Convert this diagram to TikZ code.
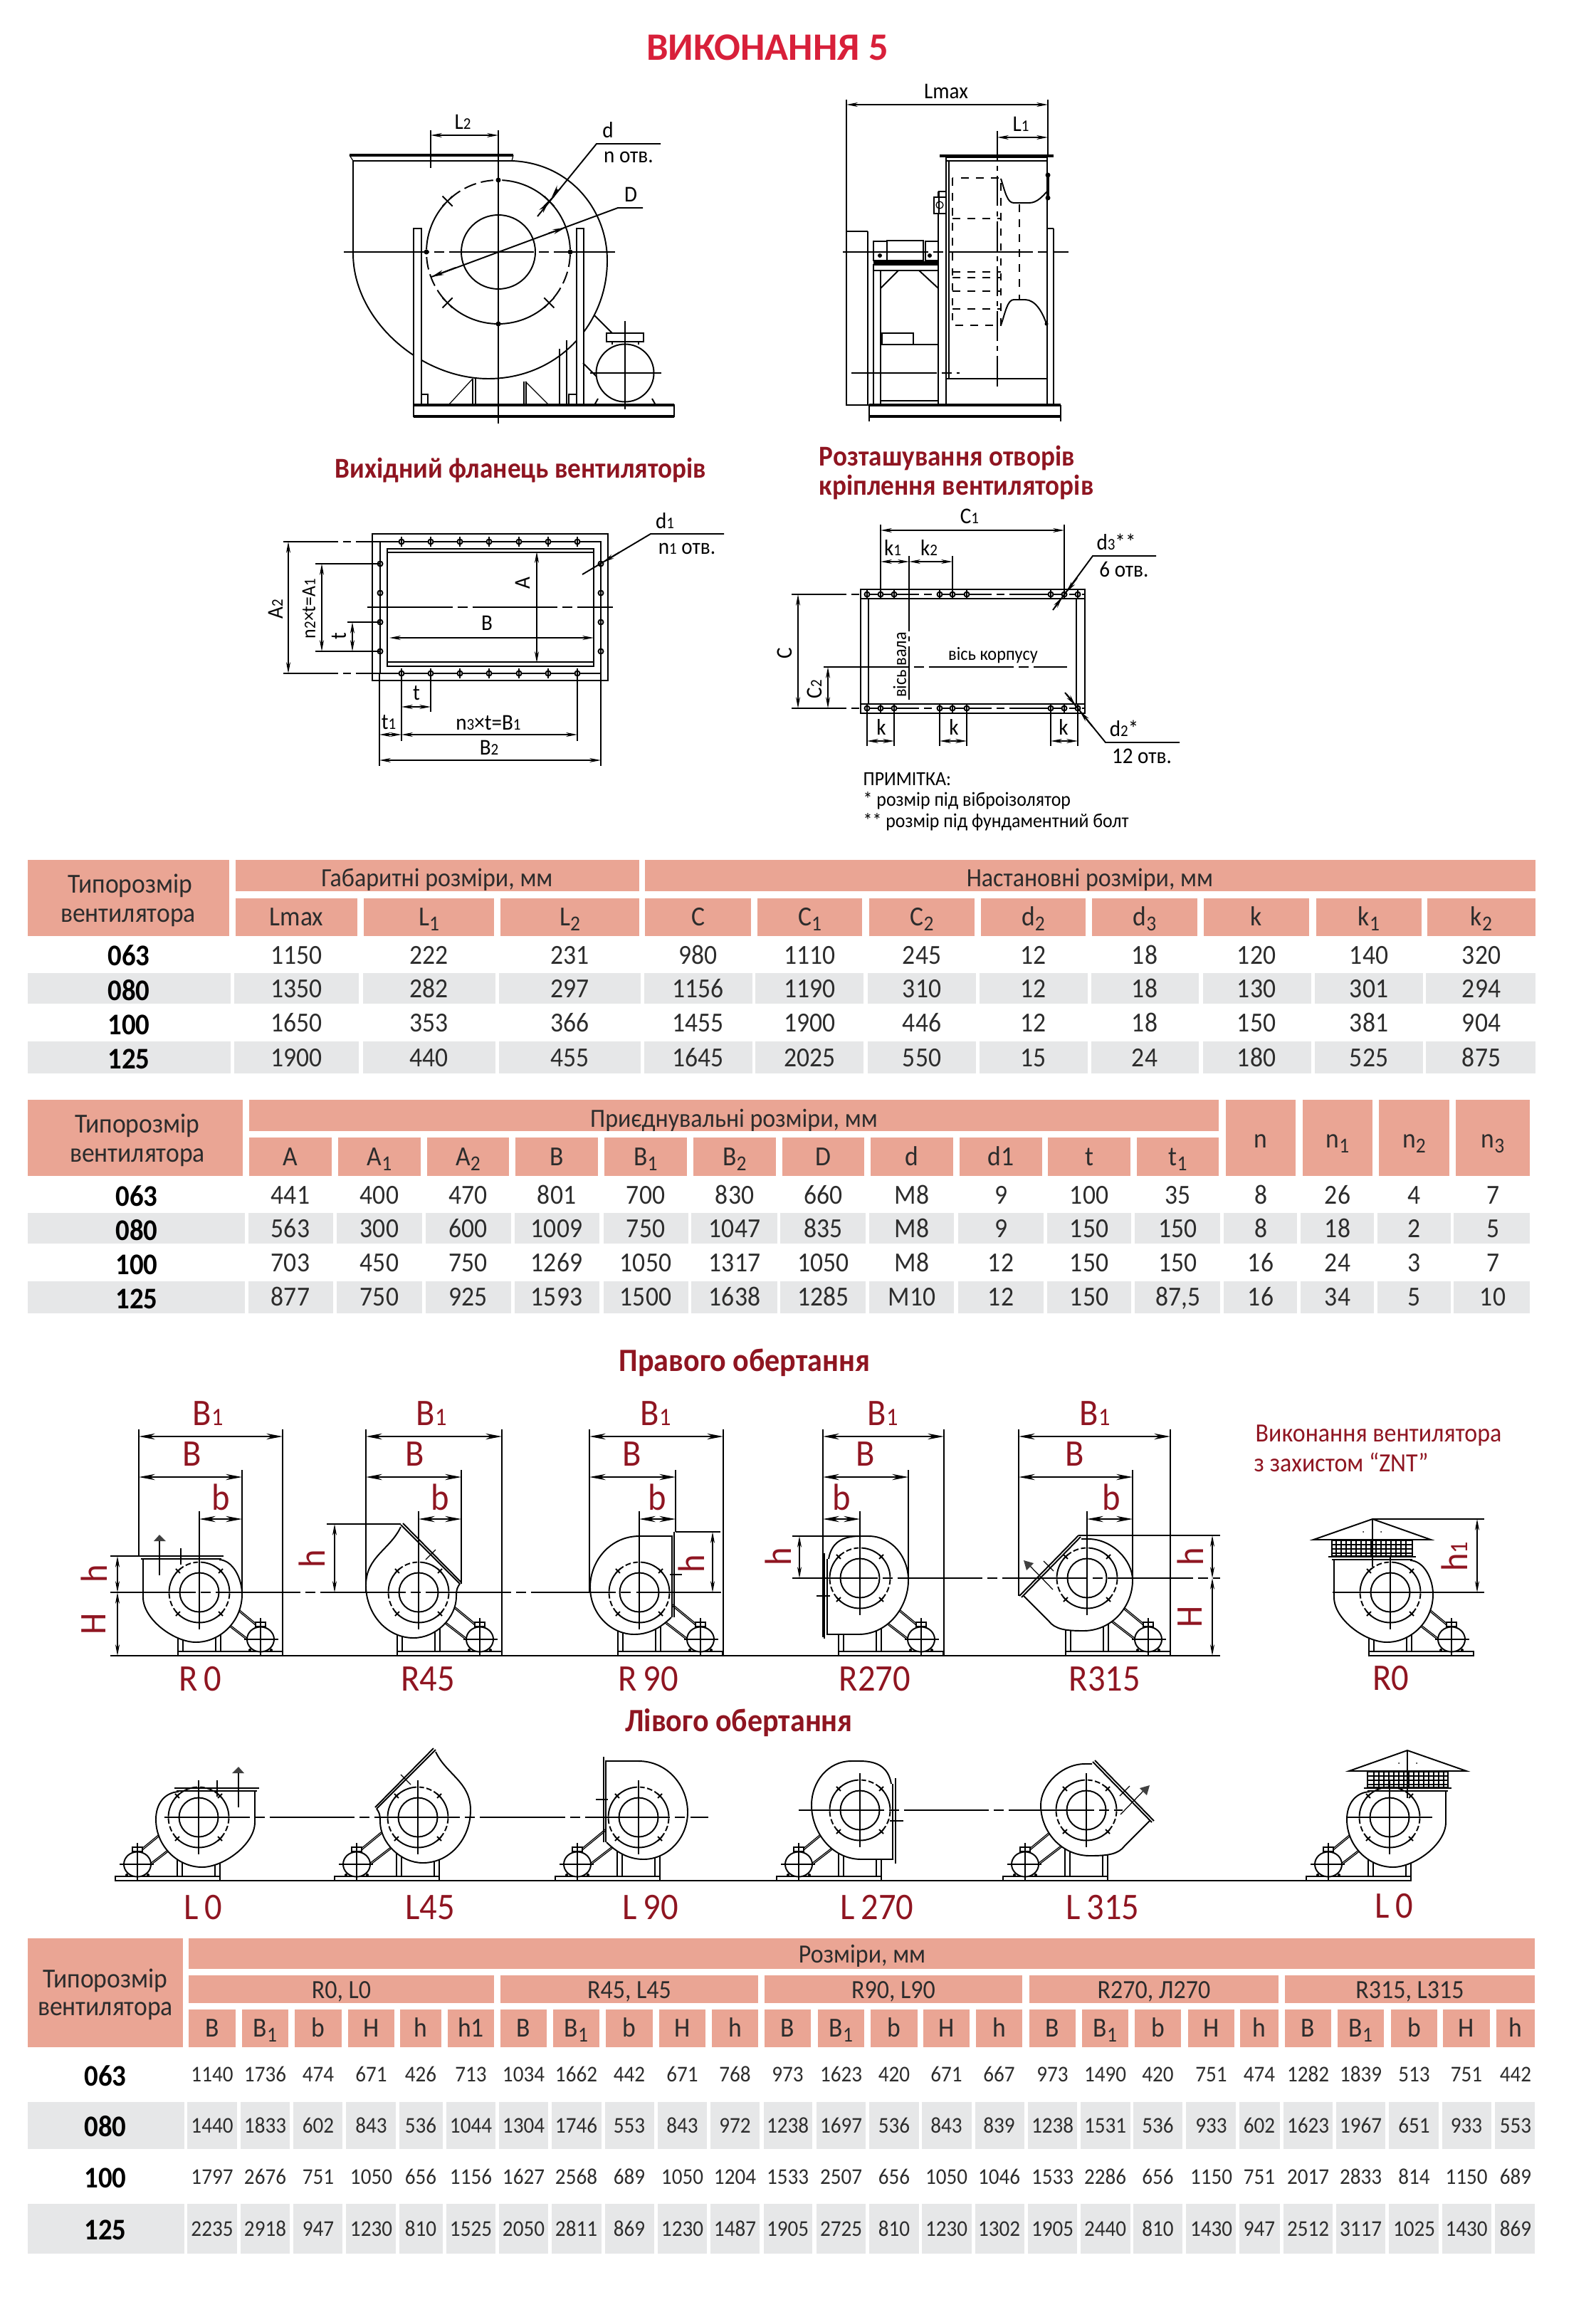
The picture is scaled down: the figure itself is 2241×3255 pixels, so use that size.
\documentclass[tikz,border=0pt]{standalone}
\usepackage{fontspec}
\setmainfont[FakeStretch=0.92]{Carlito}
\newfontfamily\plainfont{Carlito}
\usetikzlibrary{arrows.meta}
\definecolor{headfill}{HTML}{EAA594}
\definecolor{rowfill}{HTML}{E6E7E8}
\definecolor{crimson}{HTML}{D8203A}
\definecolor{maroon}{HTML}{8F1521}
\definecolor{softblack}{HTML}{2C2C2C}
\newcommand{\lowd}[1]{\raisebox{-2.2pt}{\fontsize{8.5}{9}\selectfont #1}}
\newcommand{\smd}[1]{{\fontsize{6.5}{7}\selectfont #1}}
\newcommand{\bigd}[1]{{\fontsize{10}{11}\selectfont #1}}
\tikzset{
  partline/.style={line width=0.35pt, black},
  fanline/.style={line width=0.55pt, black},
  thickline/.style={line width=1.1pt, black},
  flangeline/.style={line width=0.8pt, black},
  axisline/.style={line width=0.7pt, black, dash pattern=on 34pt off 2pt on 4pt off 2pt},
  dimline/.style={line width=0.55pt, {Stealth[length=6.5pt,width=2.4pt]}-{Stealth[length=6.5pt,width=2.4pt]}},
  dimsmall/.style={line width=0.55pt, {Stealth[length=4.5pt,width=1.7pt]}-{Stealth[length=4.5pt,width=1.7pt]}},
  leader/.style={line width=0.55pt, black},
  headtext/.style={anchor=base, inner sep=0pt, text=softblack, font=\fontsize{11}{12}\selectfont},
  grouptext/.style={anchor=base, inner sep=0pt, text=softblack, font=\fontsize{10.5}{12}\selectfont},
  valtext/.style={anchor=base, inner sep=0pt, text=softblack, font=\fontsize{11}{12}\selectfont},
  sizetext/.style={anchor=base, inner sep=0pt, black, font=\fontsize{12}{13}\bfseries\selectfont},
  smallval/.style={valtext, font=\fontsize{9}{10}\selectfont},
  draftlabel/.style={inner sep=0pt, black, font=\fontsize{9}{10}\selectfont},
  fanlabel/.style={inner sep=0pt, maroon, font=\fontsize{15}{16}\selectfont},
  sectitle/.style={anchor=west, inner sep=0pt, maroon, font=\fontsize{11.5}{13}\bfseries\selectfont},
  rottitle/.style={inner sep=0pt, maroon, font=\fontsize{13}{15}\bfseries\selectfont},
  notetext/.style={anchor=west, inner sep=0pt, font=\fontsize{8}{9}\selectfont}
}
% one column of a table: head cell, two grey cells, four values
\newcommand{\sizecolumns}[2]{%
  \foreach \hA/\hB/\gA/\gB/\lab/\vA/\vB/\vC/\vD in {#2} {
    \fill[headfill] (\hA,\headT) rectangle (\hB,\headB);
    \node[headtext] (#1h\hA) at ({(\hA+\hB)/2},\headY) {\lab};
    \fill[rowfill] (\gA,\rowbT) rectangle (\gB,\rowbB);
    \fill[rowfill] (\gA,\rowdT) rectangle (\gB,\rowdB);
    \node[\valstyle] (#1a\hA) at ({(\hA+\hB)/2},\rowaY) {\vA};
    \node[\valstyle] (#1b\hA) at ({(\hA+\hB)/2},\rowbY) {\vB};
    \node[\valstyle] (#1c\hA) at ({(\hA+\hB)/2},\rowcY) {\vC};
    \node[\valstyle] (#1d\hA) at ({(\hA+\hB)/2},\rowdY) {\vD};
  }}
\newcommand{\bolt}[2]{%
  \draw[fanline, fill=white] (#1,#2) circle (3.5);
  \draw[fanline] (#1,{#2-7}) -- (#1,{#2+7});}
% bolt ring of a fan: radius, dash on, dash off
\newcommand{\fanring}[3]{%
  \pgfmathsetmacro{\crossa}{#1*0.07}
  \draw[fanline] (273:#1) arc (273:358:#1);
  \draw[fanline] (48:#1) arc (48:132:#1);
  \draw[fanline] (182:#1) arc (182:222:#1);
  \draw[fanline, dash pattern=on #2pt off #3pt] (2:#1) arc (2:42:#1);
  \draw[fanline, dash pattern=on #2pt off #3pt] (138:#1) arc (138:178:#1);
  \draw[fanline, dash pattern=on #2pt off #3pt] (228:#1) arc (228:267:#1);
  \foreach \ang in {0,90,180,270}
    \fill (\ang:#1) circle ({#1*0.035});
  \foreach \ang in {45,135,225,315} {
    \draw[fanline] ([shift={(\ang:#1)}]-\crossa,-\crossa) -- ([shift={(\ang:#1)}]\crossa,\crossa);
    \draw[fanline] ([shift={(\ang:#1)}]-\crossa,\crossa) -- ([shift={(\ang:#1)}]\crossa,-\crossa);
  }}
% pedestal and motor, origin under the shaft at the top of the base
\newcommand{\fanbase}{%
  \draw[partline] (-30,0) rectangle (117,6);
  \draw[fanline] (-30,0) -- (117,0);
  \foreach \px in {-30,-23,23,30}
    \draw[partline] (\px,-55) -- (\px,0);
  \draw[partline] (45,-65) -- (79,-37);
  \draw[partline] (47,-66) -- (81,-38);
  \draw[partline] (31,-44) -- (66,-17);
  \draw[partline] (33,-45) -- (68,-18);
  \draw[fanline, fill=white] (86,-17) ellipse (19 and 17.5);
  \draw[partline, fill=white] (79,-41) rectangle (93,-35);
  \draw[partline] (63,-17) -- (111,-17);
  \draw[partline] (86,-47) -- (86,6);
  \fill (71,-2) circle (2);
  \fill (101,-2) circle (2);}
\newcommand{\fanunit}[5]{%
  \begin{scope}[shift={(#1,#2)}, xscale=#3]
    \fanbase
    \begin{scope}[shift={(0,-#4)}]
      #5
      \fanring{42.5}{2.2}{1}
      \draw[fanline] (0,0) circle (27.5);
      \draw[partline] (0,-52) -- (0,52);
    \end{scope}
  \end{scope}}
\newcommand{\voluteZero}[1]{%
  \draw[fanline, fill=white] (-79,{#1+3}) -- (-79,7) .. controls (-79,38) and (-35,70) .. (-5,70)
    .. controls (30,70) and (60,40) .. (60,3) .. controls (60,-20) and (47,{#1+6}) .. (28,{#1+5});
  \draw[flangeline] (-85,#1) -- (34,#1);
  \draw[partline] (-82,{#1+4}) -- (31,{#1+4});}
\newcommand{\voluteArrow}[1]{%
  \draw[partline] (-56,{#1+27}) -- (-56,{#1-21});
  \fill[black!75] (-64,{#1-21}) -- (-47,{#1-21}) -- (-56,{#1-30}) -- cycle;
  \draw[partline] (-26,{#1-11}) -- (-26,{#1+12});}
\newcommand{\voluteFortyFive}{%
  \draw[fanline, fill=white] (-25,-92) .. controls (-40,-60) and (-74,-50) .. (-74,-10)
    .. controls (-74,30) and (-45,64) .. (-7,64) .. controls (25,64) and (53,35) .. (53,6)
    .. controls (53,-5) and (55,-8) .. (58,-12);
  \draw[fanline] (-25,-95) -- (58,-12);
  \draw[fanline] (-22,-97) -- (60,-14);
  \draw[partline] (24,-60) -- (10,-46);}
\newcommand{\voluteNinety}{%
  \draw[fanline, fill=white] (47,-79) -- (0,-79) .. controls (-40,-79) and (-69,-45) .. (-69,-7)
    .. controls (-69,30) and (-40,59) .. (-7,59) .. controls (15,59) and (32,48) .. (45,35);
  \draw[flangeline] (49,-85) -- (49,35);
  \draw[partline] (46,-79) -- (46,35);
  \draw[fanline] (43,-25) -- (60,-25);}
\newcommand{\voluteTwoSeventy}{%
  \draw[fanline, fill=white] (-47,79) -- (-2,79) .. controls (40,79) and (68,40) .. (68,3)
    .. controls (68,-30) and (45,-59) .. (12,-59) -- (0,-59) .. controls (-25,-59) and (-40,-50) .. (-44,-27);
  \draw[flangeline] (-50,-35) -- (-50,85);
  \draw[partline] (-46,-27) -- (-46,79);
  \draw[fanline] (-61,25) -- (-42,25);}
\newcommand{\voluteThreeFifteen}{%
  \draw[fanline, fill=white] (-8,-55) -- (2,-55) .. controls (35,-55) and (64,-25) .. (64,3)
    .. controls (64,40) and (35,74) .. (-5,74) .. controls (-30,74) and (-45,72) .. (-54,60) -- (-89,25);
  \draw[fanline] (-12,-60) -- (-95,25);
  \draw[fanline] (-9,-58) -- (-92,27);
  \draw[partline] (-48,16) -- (-80,-17);
  \fill[black!75] (-89,-25) -- (-75,-21) -- (-85,-11) -- cycle;
  \draw[partline] (-47,-10) -- (-61,-24);}
\newcommand{\fanroof}[1]{%
  \draw[partline, fill=white] (-82,{#1-23}) rectangle (31,{#1-1});
  \foreach \gx in {-76,-69,...,26}
    \draw[partline] (\gx,{#1-23}) -- (\gx,{#1-1});
  \foreach \gy in {-17,-11,-5}
    \draw[partline] (-82,{#1+\gy}) -- (31,{#1+\gy});
  \draw[fanline, fill=white] (-108,{#1-24}) -- (-25,{#1-53}) -- (57,{#1-24}) -- cycle;
  \draw[flangeline] (-108,{#1-24}) -- (57,{#1-24});
  \draw[flangeline] (-87,#1) -- (36,#1);
  \draw[partline] (-25,{#1-53}) -- (-25,{#1+14});
  \foreach \rx in {-38,-13}
    \fill (\rx,{#1-35}) circle (1);}
\begin{document}
\begin{tikzpicture}[x=0.01cm, y=-0.01cm]
  \useasboundingbox (0,0) rectangle (2241,3255);
  \node[inner sep=0pt, crimson, font=\fontsize{15.5}{18}\plainfont\bfseries\selectfont] (maintitle) at (1078,67) {ВИКОНАННЯ 5};

  % front view
  \begin{scope}[shift={(700,354)}]
    \draw[fanline, fill=white] (-204,-128) -- (-204,2) .. controls (-204,95) and (-110,178) .. (-14,178)
      .. controls (80,178) and (153,105) .. (153,12) .. controls (153,-60) and (100,-125) .. (19,-128);
    \draw[thickline] (-209,-136) -- (21,-136);
    \draw[fanline] (-204,-128) -- (19,-128);
    \draw[partline] (-209,-136) -- (-204,-128);
    \draw[partline] (21,-136) -- (19,-128);
    \fanring{101}{5}{2}
    \draw[fanline] (0,0) circle (52);
    \draw[fanline, fill=white] (-119,-33) rectangle (-108,215);
    \draw[fanline, fill=white] (110,-33) rectangle (120,215);
    \draw[partline] (-108,200) rectangle (-99,215);
    \draw[partline] (99,200) rectangle (110,215);
    \draw[partline] (-36,178) -- (-36,215);
    \draw[partline] (-32,178) -- (-32,215);
    \draw[partline] (36,182) -- (36,215);
    \draw[partline] (39,182) -- (39,215);
    \draw[partline] (-36,178) -- (-70,215);
    \draw[partline] (38,182) -- (71,215);
    \draw[partline] (86,136) -- (86,215);
    \draw[partline] (96,124) -- (96,215);
  \end{scope}
  \draw[fanline] (581,569) rectangle (947,585);
  \draw[thickline] (581,569) -- (947,569);
  \draw[thickline] (581,585) -- (947,585);
  \draw[fanline] (835,443) -- (860,468);
  \draw[fanline] (819,510) -- (839,530);
  \draw[fanline, fill=white] (878,524) circle (40.5);
  \draw[fanline, fill=white] (852,468) rectangle (904,480);
  \draw[fanline] (860,480) -- (860,484);
  \draw[fanline] (897,480) -- (897,484);
  \draw[fanline] (829,524) -- (929,524);
  \draw[partline] (878,451) -- (878,575);
  \draw[fanline] (840,560) -- (835,569);
  \draw[fanline] (916,560) -- (921,569);
  \draw[partline] (700,183) -- (700,595);
  \draw[axisline] (483,354) -- (864,354);
  \coordinate (ltwoa) at (605,190);
  \coordinate (ltwob) at (700,190);
  \draw[partline] (605,183) -- (605,236);
  \draw[dimsmall] (ltwoa) -- (ltwob);
  \node[draftlabel] (ltwo) at (650,171) {L\smd{2}};
  \coordinate (da) at (755,304);
  \coordinate (db) at (838,202);
  \coordinate (dc) at (928,202);
  \draw[leader] (da) -- (db) -- (dc);
  \draw[leader, -{Stealth[length=5pt,width=2pt]}] (764,292) -- (771,283);
  \draw[leader, -{Stealth[length=5pt,width=2pt]}] (783,266) -- (775,277);
  \node[draftlabel] (dname) at (854,183) {d};
  \node[draftlabel] (nholes) at (883,221) {n отв.};
  \coordinate (bda) at (606,389);
  \coordinate (bdb) at (868,292);
  \coordinate (bdc) at (903,292);
  \draw[leader] (bda) -- (bdb) -- (bdc);
  \draw[leader, -{Stealth[length=5pt,width=2pt]}] (640,376) -- (bda);
  \draw[leader, -{Stealth[length=5pt,width=2pt]}] (770,328) -- (794,320);
  \node[draftlabel] (dbig) at (886,273) {D};

  % side view
  \draw[partline] (1189,140) -- (1189,569) -- (1230,569);
  \draw[partline] (1472,140) -- (1472,219);
  \draw[dimsmall] (1189,147) -- (1472,147);
  \node[draftlabel] (lmax) at (1329,128) {Lmax};
  \draw[dimsmall] (1401,193) -- (1472,193);
  \draw[partline, dash pattern=on 12pt off 2pt on 2pt off 2pt] (1401,184) -- (1401,544);
  \node[draftlabel] (lone) at (1434,174) {L\smd{1}};
  \draw[thickline] (1320,219) -- (1480,219);
  \draw[fanline] (1329,221) rectangle (1471,532);
  \draw[fanline] (1333,226) -- (1333,532);
  \draw[fanline] (1329,226) -- (1471,226);
  \draw[fanline] (1318,269) -- (1318,569);
  \draw[fanline] (1329,532) -- (1329,569);
  \draw[fanline] (1471,532) -- (1471,569);
  \draw[partline] (1480,321) -- (1480,569);
  \draw[partline] (1471,321) -- (1480,321);
  \draw[fanline, dashed] (1338,250) rectangle (1406,457);
  \foreach \dy in {307,382,390,409,434}
    \draw[fanline, dashed] (1338,\dy) -- (1406,\dy);
  \draw[fanline] (1406,251) .. controls (1412,270) and (1415,285) .. (1424,285) -- (1446,285) .. controls (1457,285) and (1465,275) .. (1471,269);
  \draw[fanline] (1406,457) .. controls (1412,440) and (1415,421) .. (1424,421) -- (1440,421) .. controls (1455,421) and (1465,440) .. (1470,455);
  \draw[partline, dashed] (1432,287) -- (1432,421);
  \draw[thickline] (1472,246) -- (1472,278);
  \fill (1472,246) circle (3.5);
  \fill (1472,278) circle (3.5);
  \fill (1470,455) circle (2.5);
  \draw[partline, fill=white] (1312,277) rectangle (1329,300);
  \draw[partline] (1319,269) rectangle (1329,300);
  \draw[partline] (1320,288) circle (5);
  \draw[partline] (1219,325) -- (1219,569);
  \draw[partline] (1189,325) -- (1219,325);
  \draw[fanline] (1227,368) -- (1318,368);
  \draw[thickline] (1227,371) -- (1318,371);
  \draw[partline] (1227,380) -- (1318,380);
  \draw[fanline] (1227,371) -- (1227,569);
  \draw[fanline] (1237,380) -- (1237,569);
  \draw[fanline] (1237,405) -- (1262,380);
  \draw[fanline] (1291,380) -- (1318,405);
  \draw[fanline] (1246,338) rectangle (1297,366);
  \draw[partline] (1227,339) rectangle (1246,366);
  \draw[partline] (1300,339) rectangle (1318,366);
  \fill (1236,359) circle (3);
  \fill (1306,359) circle (3);
  \draw[fanline] (1239,468) rectangle (1283,484);
  \draw[fanline] (1237,484) -- (1318,484);
  \draw[axisline] (1196,524) -- (1348,524);
  \draw[axisline] (1184,354) -- (1501,354);
  \draw[fanline] (1237,563) -- (1318,563);
  \draw[thickline] (1221,569) -- (1490,569);
  \draw[thickline] (1221,585) -- (1490,585);
  \draw[fanline] (1221,569) -- (1221,592);
  \draw[fanline] (1490,569) -- (1490,592);

  % outlet flange
  \node[sectitle] (flangetitle) at (470,661) {Вихідний фланець вентиляторів};
  \node[sectitle] (mounttitlea) at (1150,643) {Розташування отворів};
  \node[sectitle] (mounttitleb) at (1150,684) {кріплення вентиляторів};
  \draw[fanline] (523,750) rectangle (854,956);
  \draw[fanline] (544,771) rectangle (834,936);
  \draw[fanline] (544,776) -- (834,776);
  \draw[fanline] (544,930) -- (834,930);
  \draw[partline] (534,761) rectangle (844,946);
  \draw[fanline, dash pattern=on 22pt off 2pt on 3pt off 2pt] (398,761) -- (844,761);
  \draw[fanline, dash pattern=on 22pt off 2pt on 3pt off 2pt] (398,946) -- (844,946);
  \draw[axisline] (516,853) -- (861,853);
  \foreach \bx in {564,605,646,687,729,770,811} {
    \bolt{\bx}{761}
    \bolt{\bx}{946}
  }
  \foreach \by in {792,833,874,915} {
    \bolt{534}{\by}
    \bolt{844}{\by}
  }
  \draw[partline] (443,792) -- (534,792);
  \draw[partline] (443,915) -- (534,915);
  \draw[partline] (488,874) -- (534,874);
  \draw[dimsmall] (405,761) -- (405,946);
  \draw[dimsmall] (452,792) -- (452,915);
  \draw[dimsmall] (495,874) -- (495,915);
  \draw[dimsmall] (754,775) -- (754,931);
  \draw[dimsmall] (547,896) -- (834,896);
  \node[draftlabel, rotate=90] (atwo) at (387,856) {A\smd{2}};
  \node[draftlabel, rotate=90, font=\fontsize{8}{9}\selectfont] (aone) at (434,855) {n\smd{2}×t=A\smd{1}};
  \node[draftlabel, rotate=90] (tside) at (476,894) {t};
  \node[draftlabel, rotate=90] (aname) at (734,819) {A};
  \node[draftlabel] (bname) at (684,875) {B};
  \coordinate (dona) at (818,807);
  \coordinate (donb) at (914,750);
  \coordinate (donc) at (1017,750);
  \draw[leader] (dona) -- (donb) -- (donc);
  \draw[leader, -{Stealth[length=4.5pt,width=1.8pt]}] (870,776) -- (847,790);
  \node[draftlabel] (donename) at (934,732) {d\smd{1}};
  \node[draftlabel] (nonename) at (965,771) {n\smd{1} отв.};
  \draw[partline] (533,946) -- (533,1076);
  \draw[partline] (844,946) -- (844,1076);
  \draw[partline] (564,946) -- (564,1041);
  \draw[partline] (605,946) -- (605,1000);
  \draw[partline] (811,946) -- (811,1041);
  \draw[dimsmall] (564,993) -- (605,993);
  \draw[dimsmall] (533,1032) -- (564,1032);
  \draw[dimsmall] (564,1032) -- (811,1032);
  \draw[dimsmall] (533,1068) -- (844,1068);
  \node[draftlabel] (tbelow) at (585,974) {t};
  \node[draftlabel] (tone) at (546,1015) {t\smd{1}};
  \node[draftlabel] (bone) at (686,1015) {n\smd{3}×t=B\smd{1}};
  \node[draftlabel] (btwo) at (687,1050) {B\smd{2}};

  % fixing holes
  \draw[fanline] (1209,828) rectangle (1524,1002);
  \draw[fanline] (1209,841) -- (1524,841);
  \draw[flangeline] (1209,989) -- (1524,989);
  \draw[partline] (1220,841) -- (1220,989);
  \draw[partline] (1512,841) -- (1512,989);
  \draw[fanline, dash pattern=on 22pt off 2pt on 3pt off 2pt] (1112,835) -- (1524,835);
  \draw[fanline, dash pattern=on 22pt off 2pt on 3pt off 2pt] (1112,995) -- (1524,995);
  \draw[axisline] (1157,937) -- (1499,937);
  \foreach \bx in {1218,1237,1256,1320,1338,1358,1476,1495,1514} {
    \bolt{\bx}{835}
    \bolt{\bx}{995}
  }
  \draw[fanline] (1237,737) -- (1237,835);
  \draw[fanline] (1495,737) -- (1495,835);
  \draw[partline] (1338,781) -- (1338,835);
  \draw[partline, dash pattern=on 30pt off 2pt on 2pt off 2pt] (1277,781) -- (1277,983);
  \draw[dimsmall] (1237,745) -- (1495,745);
  \draw[dimsmall] (1237,789) -- (1277,789);
  \draw[dimsmall] (1277,789) -- (1338,789);
  \draw[dimsmall] (1121,835) -- (1121,995);
  \draw[dimsmall] (1163,937) -- (1163,995);
  \node[draftlabel] (cone) at (1362,725) {C\smd{1}};
  \node[draftlabel] (kone) at (1254,770) {k\smd{1}};
  \node[draftlabel] (ktwo) at (1305,770) {k\smd{2}};
  \node[draftlabel, rotate=90] (cname) at (1102,918) {C};
  \node[draftlabel, rotate=90] (ctwo) at (1144,968) {C\smd{2}};
  \node[inner sep=0pt, rotate=90, font=\fontsize{7.5}{8}\selectfont] (shaftaxis) at (1264,934) {вісь вала};
  \node[inner sep=0pt, font=\fontsize{7.5}{8}\selectfont] (caseaxis) at (1395,921) {вісь корпусу};
  \foreach \kl/\kr/\kn in {1218/1256/1238,1320/1358/1340,1476/1514/1494} {
    \draw[partline] (\kl,995) -- (\kl,1048);
    \draw[partline] (\kr,995) -- (\kr,1048);
    \draw[dimsmall] (\kl,1041) -- (\kr,1041);
    \node[draftlabel] (k\kl) at (\kn,1022) {k};
  }
  \coordinate (dtha) at (1479,857);
  \coordinate (dthb) at (1535,781);
  \coordinate (dthc) at (1624,781);
  \draw[leader] (dtha) -- (dthb) -- (dthc);
  \draw[leader, -{Stealth[length=4.5pt,width=1.8pt]}] (1513,812) -- (1498,832);
  \draw[leader, -{Stealth[length=4.5pt,width=1.8pt]}] (1482,853) -- (1492,839);
  \node[draftlabel] (dthree) at (1568,761) {d\smd{3}**};
  \node[draftlabel] (sixholes) at (1579,800) {6 отв.};
  \coordinate (dtwa) at (1496,973);
  \coordinate (dtwb) at (1553,1043);
  \coordinate (dtwc) at (1657,1043);
  \draw[leader] (dtwa) -- (dtwb) -- (dtwc);
  \draw[leader, -{Stealth[length=4.5pt,width=1.8pt]}] (1535,1021) -- (1517,999);
  \draw[leader, -{Stealth[length=4.5pt,width=1.8pt]}] (1498,975) -- (1511,991);
  \node[draftlabel] (dtwo) at (1579,1023) {d\smd{2}*};
  \node[draftlabel] (twelveholes) at (1604,1062) {12 отв.};
  \node[notetext] (notea) at (1212,1095) {ПРИМІТКА:};
  \node[notetext] (noteb) at (1212,1125) {* розмір під віброізолятор};
  \node[notetext] (notec) at (1212,1155) {** розмір під фундаментний болт};

  % first table
  \fill[headfill] (39,1208) rectangle (322,1315);
  \node[headtext] (typea) at (183,1254) {Типорозмір};
  \node[headtext] (typeb) at (180,1295) {вентилятора};
  \fill[headfill] (331,1208) rectangle (898,1252);
  \fill[headfill] (906,1208) rectangle (2157,1252);
  \node[grouptext] (overall) at (614,1245) {Габаритні розміри, мм};
  \node[grouptext] (install) at (1531,1245) {Настановні розміри, мм};
  \fill[rowfill] (39,1367) rectangle (324,1410);
  \fill[rowfill] (39,1463) rectangle (324,1508);
  \foreach \sz/\yb in {063/1356,080/1405,100/1453,125/1501}
    \node[sizetext] (sa\sz) at (181,\yb) {\sz};
  \def\headT{1262}\def\headB{1315}\def\headY{1300}\def\valstyle{valtext}
  \def\rowbT{1367}\def\rowbB{1410}\def\rowdT{1463}\def\rowdB{1508}
  \def\rowaY{1354}\def\rowbY{1401}\def\rowcY{1449}\def\rowdY{1498}
  \sizecolumns{ta}{
    331/502/329/504/Lmax/1150/1350/1650/1900,
    511/694/510/696/L\lowd{1}/222/282/353/440,
    703/898/701/900/L\lowd{2}/231/297/366/455,
    906/1055/905/1057/C/980/1156/1455/1645,
    1064/1211/1061/1213/C\lowd{1}/1110/1190/1900/2025,
    1221/1369/1219/1371/C\lowd{2}/245/310/446/550,
    1378/1525/1376/1528/d\lowd{2}/12/12/12/15,
    1534/1682/1533/1684/d\lowd{3}/18/18/18/24,
    1691/1839/1690/1842/k/120/130/150/180,
    1849/1997/1847/1999/k\lowd{1}/140/301/381/525,
    2005/2157/2003/2157/k\lowd{2}/320/294/904/875}

  % second table
  \fill[headfill] (39,1545) rectangle (341,1652);
  \node[headtext] (typec) at (193,1591) {Типорозмір};
  \node[headtext] (typed) at (193,1632) {вентилятора};
  \fill[headfill] (350,1545) rectangle (1712,1589);
  \node[grouptext] (joining) at (1031,1583) {Приєднувальні розміри, мм};
  \fill[rowfill] (39,1704) rectangle (344,1747);
  \fill[rowfill] (39,1800) rectangle (344,1845);
  \foreach \sz/\yb in {063/1694,080/1742,100/1790,125/1838}
    \node[sizetext] (sb\sz) at (192,\yb) {\sz};
  \def\headT{1598}\def\headB{1652}\def\headY{1637}
  \def\rowbT{1704}\def\rowbB{1747}\def\rowdT{1800}\def\rowdB{1845}
  \def\rowaY{1691}\def\rowbY{1738}\def\rowcY{1786}\def\rowdY{1834}
  \sizecolumns{tb}{
    350/466/349/468/A/441/563/703/877,
    475/591/473/593/A\lowd{1}/400/300/450/750,
    600/715/598/718/A\lowd{2}/470/600/750/925,
    724/840/723/842/B/801/1009/1269/1593,
    849/965/848/967/B\lowd{1}/700/750/1050/1500,
    974/1090/971/1092/B\lowd{2}/830/1047/1317/1638,
    1099/1214/1096/1216/D/660/835/1050/1285,
    1223/1339/1221/1340/d/M8/M8/M8/M10,
    1348/1464/1346/1466/d1/9/9/12/12,
    1472/1588/1471/1589/t/100/150/150/150,
    1597/1712/1594/1714/t\lowd{1}/35/150/150/{87,5}}
  \def\headT{1545}\def\headY{1612}
  \sizecolumns{tn}{
    1722/1820/1719/1822/n/8/8/16/16,
    1830/1928/1827/1930/n\lowd{1}/26/18/24/34,
    1937/2036/1935/2038/n\lowd{2}/4/2/3/5,
    2045/2149/2042/2149/n\lowd{3}/7/5/7/10}

  % rotation variants
  \node[rottitle] (righttitle) at (1046,1914) {Правого обертання};
  \node[rottitle] (lefttitle) at (1038,2420) {Лівого обертання};
  \node[anchor=west, inner sep=0pt, maroon, font=\fontsize{10.5}{12}\selectfont] (zntone) at (1763,2017) {Виконання вентилятора};
  \node[anchor=west, inner sep=0pt, maroon, font=\fontsize{10.5}{12}\selectfont] (znttwo) at (1761,2054) {з захистом “ZNT”};

  \fanunit{280}{2320}{1}{83}{\voluteZero{-51}\voluteArrow{-51}}
  \fanunit{588}{2320}{1}{83}{\voluteFortyFive}
  \fanunit{898}{2320}{1}{83}{\voluteNinety}
  \fanunit{1208}{2320}{1}{103}{\voluteTwoSeventy}
  \fanunit{1527}{2320}{1}{103}{\voluteThreeFifteen}
  \fanunit{1953}{2320}{1}{83}{\voluteZero{-50}\fanroof{-50}}
  \fanunit{279}{2636}{-1}{83}{\voluteZero{-41}\voluteArrow{-41}}
  \fanunit{587}{2636}{-1}{83}{\voluteFortyFive}
  \fanunit{897}{2636}{-1}{83}{\voluteNinety}
  \fanunit{1208}{2636}{-1}{93}{\begin{scope}[shift={(0,-10)}]\voluteTwoSeventy\end{scope}}
  \fanunit{1526}{2636}{-1}{93}{\begin{scope}[shift={(0,-10)}]\voluteThreeFifteen\end{scope}}
  \fanunit{1952}{2636}{-1}{83}{\voluteZero{-41}\fanroof{-41}}

  \draw[fanline] (155,2326) -- (1714,2326);
  \draw[fanline] (162,2642) -- (1953,2642);
  \draw[axisline] (155,2237) -- (1013,2237);
  \draw[axisline] (1113,2217) -- (1714,2217);
  \draw[fanline] (1872,2237) -- (2085,2237);
  \draw[axisline] (231,2553) -- (995,2553);
  \draw[axisline] (1122,2543) -- (1577,2543);
  \draw[fanline] (1891,2553) -- (2012,2553);

  % B1, B, b over each fan
  \foreach \fname/\xL/\bL/\bR/\xB/\xR/\lBo/\lB/\lb/\yL/\yB/\xC/\yC in {
      rz/195/280/340/340/397/292/270/310/2186/2237/280/2237,
      rf/514/588/648/648/705/606/583/618/2237/2225/588/2237,
      rn/828/898/949/949/1016/921/888/923/2237/2152/898/2237,
      rt/1156/1156/1208/1276/1326/1240/1216/1182/2300/2217/1208/2217,
      rs/1431/1527/1591/1591/1644/1538/1510/1561/2242/2217/1527/2217} {
    \draw[partline] (\xL,2008) -- (\xL,\yL);
    \draw[partline] (\xR,2008) -- (\xR,2326);
    \draw[partline] (\xB,2065) -- (\xB,\yB);
    \draw[partline] (\xC,2123) -- (\xC,\yC);
    \draw[dimline] (\xL,2018) -- (\xR,2018);
    \draw[dimline] (\xL,2075) -- (\xB,2075);
    \draw[dimline] (\bL,2134) -- (\bR,2134);
    \node[fanlabel] (\fname bone) at (\lBo,1986) {B\bigd{1}};
    \node[fanlabel] (\fname bb) at (\lB,2043) {B};
    \node[fanlabel] (\fname b) at (\lb,2103) {b};
  }
  % h and H at the side
  \foreach \xd/\yt/\yb in {165/2186/2237,165/2237/2326,470/2141/2237,1001/2152/2237,1123/2158/2217,1703/2157/2217,1703/2217/2326,2075/2134/2237}
    \draw[dimsmall] (\xd,\yt) -- (\xd,\yb);
  \foreach \xs/\xe/\ye in {155/195/2186,459/563/2141,949/1012/2152,1113/1220/2158,1515/1714/2157,1928/2085/2134}
    \draw[partline] (\xs,\ye) -- (\xe,\ye);
  \foreach \hn/\hx/\hy/\hname in {ha/132/2211/h,hb/132/2281/H,hc/438/2190/h,hd/971/2197/h,he/1093/2187/h,hf/1672/2187/h,hg/1672/2271/H}
    \node[fanlabel, rotate=90] (\hn) at (\hx,\hy) {\hname};
  \node[fanlabel, rotate=90] (hone) at (2043,2187) {h\bigd{1}};
  \foreach \vn/\vx/\vy/\vt in {va/281/2359/R\,0,vb/601/2359/R45,vc/911/2359/R\,90,vd/1229/2359/R270,ve/1552/2359/R315,vf/1954/2358/R0,vg/285/2680/L\,0,vh/604/2680/L45,vi/914/2680/L\,90,vj/1232/2680/L\,270,vk/1549/2680/L\,315,vl/1958/2678/L\,0}
    \node[fanlabel] (\vn) at (\vx,\vy) {\vt};

  % third table
  \fill[headfill] (39,2723) rectangle (257,2876);
  \node[headtext] (typee) at (148,2792) {Типорозмір};
  \node[headtext] (typef) at (148,2831) {вентилятора};
  \fill[headfill] (265,2723) rectangle (2156,2766);
  \node[grouptext] (sizes) at (1211,2757) {Розміри, мм};
  \foreach \gl/\gr/\gt in {265/694/{R0, L0},703/1065/{R45, L45},1074/1436/{R90, L90},1446/1796/{R270, Л270},1805/2156/{R315, L315}} {
    \fill[headfill] (\gl,2775) rectangle (\gr,2814);
    \node[grouptext] (g\gl) at ({(\gl+\gr)/2},2807) {\gt};
  }
  \fill[rowfill] (39,2953) rectangle (259,3019);
  \fill[rowfill] (39,3096) rectangle (259,3166);
  \foreach \sz/\yb in {063/2930,080/3001,100/3073,125/3146}
    \node[sizetext] (sc\sz) at (148,\yb) {\sz};
  \def\headT{2823}\def\headB{2876}\def\headY{2861}\def\valstyle{smallval}
  \def\rowbT{2953}\def\rowbB{3019}\def\rowdT{3096}\def\rowdB{3166}
  \def\rowaY{2924}\def\rowbY{2996}\def\rowcY{3068}\def\rowdY{3141}
  \sizecolumns{tc}{
    265/331/263/333/B/1140/1440/1797/2235,
    340/405/338/407/B\lowd{1}/1736/1833/2676/2918,
    414/480/412/481/b/474/602/751/947,
    489/554/486/556/H/671/843/1050/1230,
    562/620/561/622/h/426/536/656/810,
    629/694/627/696/h1/713/1044/1156/1525,
    703/768/701/770/B/1034/1304/1627/2050,
    777/842/775/845/B\lowd{1}/1662/1746/2568/2811,
    851/917/850/919/b/442/553/689/869,
    926/991/924/993/H/671/843/1050/1230,
    1000/1065/998/1067/h/768/972/1204/1487,
    1074/1139/1073/1141/B/973/1238/1533/1905,
    1149/1214/1147/1216/B\lowd{1}/1623/1697/2507/2725,
    1223/1289/1221/1291/b/420/536/656/810,
    1297/1362/1295/1365/H/671/843/1050/1230,
    1371/1436/1370/1439/h/667/839/1046/1302,
    1446/1511/1444/1513/B/973/1238/1533/1905,
    1520/1585/1518/1588/B\lowd{1}/1490/1531/2286/2440,
    1594/1659/1592/1661/b/420/536/656/810,
    1669/1734/1666/1736/H/751/933/1150/1430,
    1742/1796/1741/1798/h/474/602/751/947,
    1805/1870/1803/1872/B/1282/1623/2017/2512,
    1879/1944/1877/1946/B\lowd{1}/1839/1967/2833/3117,
    1954/2019/1951/2021/b/513/651/814/1025,
    2027/2093/2026/2095/H/751/933/1150/1430,
    2102/2156/2100/2156/h/442/553/689/869}
\end{tikzpicture}
\end{document}
